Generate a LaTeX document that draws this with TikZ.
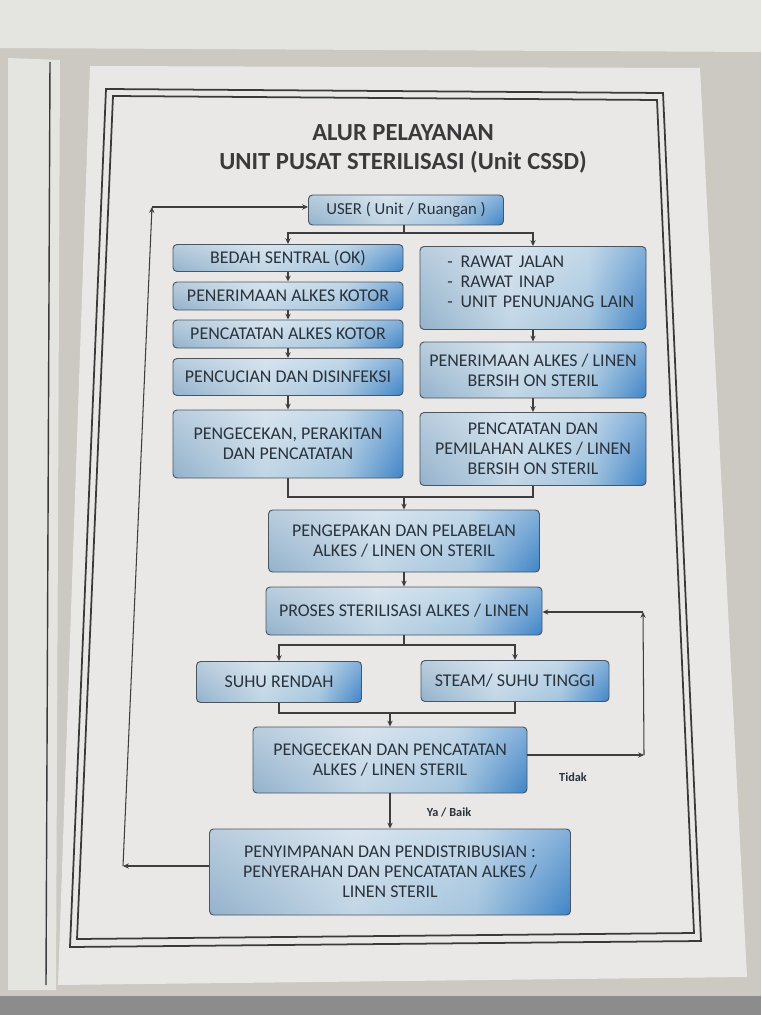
\documentclass[tikz,border=0pt]{standalone}
\usepackage{fontspec}
\setmainfont{Carlito}
\usepackage{tikz}
\usetikzlibrary{arrows.meta}
\usetikzlibrary{fadings}
\definecolor{boxline}{HTML}{4A5560}
\definecolor{txt}{HTML}{2A323C}
\definecolor{linegray}{HTML}{3E3E40}
\definecolor{card}{HTML}{EAE8E6}
\definecolor{bg}{HTML}{CCC9C3}
\definecolor{sheet}{HTML}{E4E4E1}
\definecolor{frame}{HTML}{3A3A3C}
\pgfdeclarehorizontalshading{boxshade}{100bp}{rgb(0bp)=(.58,.70,.80); rgb(25bp)=(.58,.70,.80); rgb(45bp)=(.76,.84,.90); rgb(62bp)=(.64,.77,.87); rgb(75bp)=(.25,.52,.78); rgb(100bp)=(.25,.52,.78)}
\tikzset{box/.style={draw=boxline, line width=0.8pt, rounded corners=1.2mm, shade, shading=boxshade,
  text=txt, font=\fontsize{15.3}{17}\selectfont, align=center, inner sep=1pt,
  path picture={\fill[white, opacity=.35, path fading=south] (path picture bounding box.south west) rectangle (path picture bounding box.north east);}}}
\tikzset{colL/.style={minimum width=69mm}}
\tikzset{colR/.style={minimum width=67.8mm}}
\tikzset{con/.style={draw=linegray, line width=0.9pt}}
\tikzset{lab/.style={font=\fontsize{10.5}{10.5}\selectfont\bfseries, text=txt}}
\tikzset{title/.style={font=\fontsize{21}{25}\selectfont\bfseries, text=frame, align=center}}
\tikzset{>={Stealth[length=5pt,width=4.5pt]}}
\newcommand{\dashitem}[1]{\hspace*{6.3mm}\makebox[4mm][l]{-}#1}

\begin{document}
\begin{tikzpicture}[x=0.3mm,y=-0.3mm]
  % photo surroundings
  \fill[bg] (0,0) rectangle (761,1015);
  \fill[sheet] (0,0) -- (761,0) -- (761,52) -- (0,48) -- cycle;
  \fill[sheet] (8,58) -- (60,60) -- (56,990) -- (8,990) -- cycle;
  \draw[frame, line width=1.2pt] (50,62) -- (46,985);
  \fill[black!45] (0,996) rectangle (761,1015);
  \fill[card] (90,66) -- (700,68) -- (747,977) -- (58,985) -- cycle;
  % double frame
  \draw[frame, line width=1.5pt] (106,89) -- (663,93) -- (701,941) -- (70,947) -- cycle;
  \draw[frame, line width=1.5pt] (113,96) -- (657,100) -- (694,933) -- (77,939) -- cycle;

  \node[title] (judul) at (403,149) {ALUR PELAYANAN\\UNIT PUSAT STERILISASI (Unit CSSD)};

  \node[box, minimum width=58.5mm, minimum height=9mm, font=\fontsize{14.3}{17}\selectfont] (user) at (406,210) {USER ( Unit / Ruangan )};

  % left column
  \node[box, colL, minimum height=8.1mm] (bedah) at (288,258) {BEDAH SENTRAL (OK)};
  \node[box, colL, minimum height=8.4mm] (terimakotor) at (288,296) {PENERIMAAN ALKES KOTOR}
    edge [con, <-] (bedah);
  \node[box, colL, minimum height=8.4mm] (catatkotor) at (288,334) {PENCATATAN ALKES KOTOR}
    edge [con, <-] (terimakotor);
  \node[box, colL, minimum height=11.1mm] (cuci) at (288,377) {PENCUCIAN DAN DISINFEKSI}
    edge [con, <-] (catatkotor);
  \node[box, colL, minimum height=20.4mm] (rakit) at (288,444) {PENGECEKAN, PERAKITAN\\DAN PENCATATAN}
    edge [con, <-] (cuci);

  % right column
  \node[box, colR, minimum height=24.9mm, text width=64mm, align=left, text depth=15.6mm] (rawat) at (533,288)
    {\dashitem{RAWAT JALAN}\\\dashitem{RAWAT INAP}\\\dashitem{UNIT PENUNJANG LAIN}};
  \node[box, colR, minimum height=16.8mm] (terimalinen) at (533,370) {PENERIMAAN ALKES / LINEN\\BERSIH ON STERIL}
    edge [con, <-] (rawat);
  \node[box, colR, minimum height=21.9mm] (pilah) at (533,449) {PENCATATAN DAN\\PEMILAHAN ALKES / LINEN\\BERSIH ON STERIL}
    edge [con, <-] (terimalinen);

  \coordinate (split1) at (404,233);
  \draw[con] (user.south -| split1) -- (split1);
  \draw[con, ->] (split1) -| (bedah);
  \draw[con, ->] (split1) -| (rawat);

  \node[box, minimum width=81.3mm, minimum height=18.6mm] (kemas) at (404,541) {PENGEPAKAN DAN PELABELAN\\ALKES / LINEN ON STERIL};
  \coordinate (merge1) at (404,497);
  \draw[con] (rakit) |- (merge1);
  \draw[con] (pilah) |- (merge1);
  \draw[con, ->] (merge1) -- (kemas);

  \node[box, minimum width=82.8mm, minimum height=14.4mm] (proses) at (404,611) {PROSES STERILISASI ALKES / LINEN}
    edge [con, <-] (kemas);

  \node[box, minimum width=49.5mm, minimum height=12.3mm] (rendah) at (279,682) {SUHU RENDAH};
  \node[box, minimum width=56.4mm, minimum height=12.3mm] (steam) at (515,681) {STEAM/ SUHU TINGGI};
  \coordinate (split2) at (404,645);
  \draw[con] (proses) -- (split2);
  \draw[con, ->] (split2) -| (rendah);
  \draw[con, ->] (split2) -| (steam);

  \node[box, minimum width=82.2mm, minimum height=19.8mm] (cekstr) at (390,760) {PENGECEKAN DAN PENCATATAN\\ALKES / LINEN STERIL};
  \coordinate (merge2) at (390,713);
  \draw[con] (rendah) |- (merge2);
  \draw[con] (steam) |- (merge2);
  \draw[con, ->] (merge2) -- (cekstr);

  \node[box, minimum width=108.3mm, minimum height=25.8mm] (simpan) at (390,872)
    {PENYIMPANAN DAN PENDISTRIBUSIAN :\\PENYERAHAN DAN PENCATATAN ALKES /\\LINEN STERIL};
  \draw[con, ->] (cekstr) -- (simpan);
  \node[lab] (ya) at (449,812) {Ya / Baik};

  % Tidak: back to sterilisation
  \coordinate (t1) at (644,755);
  \coordinate (t2) at (643,612);
  \draw[con, ->] (cekstr.east |- t1) -- (t1);
  \draw[con, ->] (t1) -- (t2);
  \draw[con, ->] (t2) -- (proses.east |- t2);
  \node[lab] (tidak) at (573,777) {Tidak};

  % back to user
  \coordinate (r1) at (123,866);
  \coordinate (r2) at (152,207);
  \draw[con, ->] (simpan.west |- r1) -- (r1);
  \draw[con, ->] (r1) -- (r2);
  \draw[con, ->] (r2) -- (user.west |- r2);
\end{tikzpicture}
\end{document}
